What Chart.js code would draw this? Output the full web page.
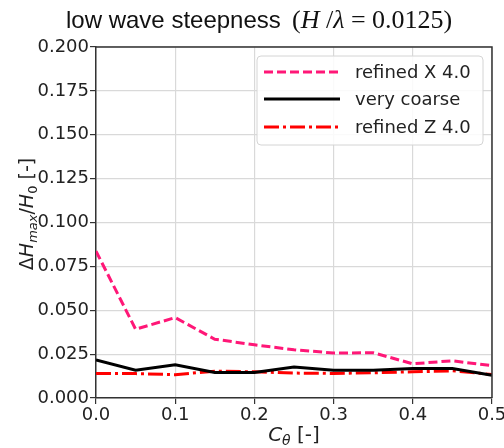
<!DOCTYPE html>
<html>
<head>
<meta charset="utf-8">
<script src="https://cdn.jsdelivr.net/npm/chart.js@4.4.1/dist/chart.umd.min.js"></script>
<style>
  html, body { margin: 0; padding: 0; background: #ffffff; }
  #wrap { width: 504px; height: 448px; }
</style>
</head>
<body>
<div id="wrap"><canvas id="c" width="504" height="448"></canvas></div>
<script>
// ---- data ----
const cTheta = [0.0, 0.05, 0.1, 0.15, 0.2, 0.25, 0.3, 0.35, 0.4, 0.45, 0.5];
const refinedX4 = [0.0837, 0.0392, 0.0458, 0.0335, 0.0303, 0.0275, 0.0256, 0.0258, 0.0195, 0.0212, 0.0184];
const veryCoarse = [0.0217, 0.0158, 0.0190, 0.0145, 0.0146, 0.0176, 0.0158, 0.0158, 0.0168, 0.0168, 0.0129];
const refinedZ4 = [0.0139, 0.0139, 0.0133, 0.0153, 0.0149, 0.0142, 0.0140, 0.0144, 0.0149, 0.0155, 0.0134];
const seriesNames = ['refined X 4.0', 'very coarse', 'refined Z 4.0'];
const xTickValues = [0.0, 0.1, 0.2, 0.3, 0.4, 0.5];
const yTickValues = [0.000, 0.025, 0.050, 0.075, 0.100, 0.125, 0.150, 0.175, 0.200];

const toPts = (ys) => ys.map((y, i) => ({ x: cTheta[i], y: y }));

const SANS = '"DejaVu Sans", sans-serif';

// Title, axis titles, top/right spines and legend
const decor = {
  id: 'decor',
  afterDraw(chart) {
    const ctx = chart.ctx;
    const a = chart.chartArea;
    ctx.save();
    // top & right spines
    ctx.strokeStyle = '#333333';
    ctx.lineWidth = 1.5;
    ctx.beginPath();
    ctx.moveTo(a.left, a.top);
    ctx.lineTo(a.right, a.top);
    ctx.lineTo(a.right, a.bottom);
    ctx.stroke();

    // ---- title ----
    ctx.fillStyle = '#111111';
    ctx.textBaseline = 'alphabetic';
    ctx.textAlign = 'left';
    let tx = 66, ty = 28;
    ctx.font = '24px "Liberation Sans", Arial, sans-serif';
    ctx.fillText('low wave steepness', tx, ty);
    tx = 292;
    const serif = '"Liberation Serif", "Times New Roman", serif';
    const parts = [
      ['(', 'normal'], ['H', 'italic'], [' /', 'normal'], ['λ', 'italic'],
      [' = ', 'normal'], ['0.0125', 'normal'], [')', 'normal']
    ];
    for (const [t, st] of parts) {
      ctx.font = st + ' 26px ' + serif;
      ctx.fillText(t, tx, ty);
      tx += ctx.measureText(t).width;
    }

    // ---- x axis title: C_θ [-] ----
    const drawRich = (segs, cx, cy) => {
      let w = 0;
      for (const s of segs) { ctx.font = s.f; w += ctx.measureText(s.t).width; }
      let x = cx - w / 2;
      for (const s of segs) {
        ctx.font = s.f;
        ctx.fillText(s.t, x, cy + (s.dy || 0));
        x += ctx.measureText(s.t).width;
      }
    };
    ctx.fillStyle = '#222222';
    drawRich([
      { t: 'C', f: 'italic 20px ' + SANS },
      { t: 'θ', f: 'italic 14px ' + SANS, dy: 4 },
      { t: ' [-]', f: '20px ' + SANS }
    ], (a.left + a.right) / 2, 441);

    // ---- y axis title: ΔH_max/H_0 [-] ----
    ctx.save();
    ctx.translate(33, 214);
    ctx.rotate(-Math.PI / 2);
    drawRich([
      { t: 'Δ', f: '19px ' + SANS },
      { t: 'H', f: 'italic 19px ' + SANS },
      { t: 'max', f: 'italic 13px ' + SANS, dy: 4 },
      { t: '/', f: '19px ' + SANS },
      { t: 'H', f: 'italic 19px ' + SANS },
      { t: '0', f: '13px ' + SANS, dy: 4 },
      { t: ' [-]', f: '19px ' + SANS }
    ], 0, 0);
    ctx.restore();

    // ---- legend ----
    const bx = 257, by = 56, bw = 226, bh = 89, r = 4;
    ctx.beginPath();
    ctx.moveTo(bx + r, by);
    ctx.arcTo(bx + bw, by, bx + bw, by + bh, r);
    ctx.arcTo(bx + bw, by + bh, bx, by + bh, r);
    ctx.arcTo(bx, by + bh, bx, by, r);
    ctx.arcTo(bx, by, bx + bw, by, r);
    ctx.closePath();
    ctx.fillStyle = 'rgba(255,255,255,0.85)';
    ctx.fill();
    ctx.strokeStyle = '#d4d4d4';
    ctx.lineWidth = 1;
    ctx.stroke();

    const rows = [72, 99, 127];
    chart.data.datasets.forEach((ds, i) => {
      const y = rows[i];
      ctx.save();
      ctx.strokeStyle = ds.borderColor;
      ctx.lineWidth = ds.borderWidth;
      ctx.setLineDash(ds.borderDash || []);
      ctx.lineCap = 'butt';
      ctx.beginPath();
      ctx.moveTo(264, y);
      ctx.lineTo(340, y);
      ctx.stroke();
      ctx.restore();
      ctx.fillStyle = '#222222';
      ctx.font = '18px ' + SANS;
      ctx.textBaseline = 'middle';
      ctx.fillText(ds.label, 355, y + 1);
    });
    ctx.restore();
  }
};

new Chart(document.getElementById('c'), {
  type: 'line',
  data: {
    datasets: [
      {
        label: seriesNames[0],
        data: toPts(refinedX4),
        borderColor: '#ff1777',
        borderWidth: 3,
        borderDash: [9, 4],
        pointRadius: 0,
        fill: false,
        tension: 0
      },
      {
        label: seriesNames[1],
        data: toPts(veryCoarse),
        borderColor: '#000000',
        borderWidth: 3,
        pointRadius: 0,
        fill: false,
        tension: 0
      },
      {
        label: seriesNames[2],
        data: toPts(refinedZ4),
        borderColor: '#ff0000',
        borderWidth: 3,
        borderDash: [15, 4, 3, 4],
        pointRadius: 0,
        fill: false,
        tension: 0
      }
    ]
  },
  options: {
    responsive: false,
    animation: false,
    devicePixelRatio: 1,
    layout: { padding: { top: 47, right: 12, left: 0, bottom: 0 } },
    plugins: {
      legend: { display: false },
      title: { display: false },
      tooltip: { enabled: false }
    },
    scales: {
      x: {
        type: 'linear',
        min: 0, max: 0.5,
        afterBuildTicks(scale) { scale.ticks = xTickValues.map(v => ({ value: v })); },
        afterFit(scale) { scale.height = 50; scale.paddingLeft = 0; scale.paddingRight = 0; },
        grid: { color: '#d9d9d9', lineWidth: 1.2, tickColor: '#333333', tickLength: 6, tickWidth: 1.2 },
        border: { display: true, color: '#333333', width: 1.5 },
        ticks: {
          font: { family: 'DejaVu Sans', size: 18 },
          color: '#222222',
          padding: 1,
          maxRotation: 0,
          autoSkip: false,
          callback: (v) => Number(v).toFixed(1)
        }
      },
      y: {
        type: 'linear',
        min: 0, max: 0.2,
        afterBuildTicks(scale) { scale.ticks = yTickValues.map(v => ({ value: v })); },
        afterFit(scale) { scale.width = 96; scale.paddingTop = 0; scale.paddingBottom = 0; },
        grid: { color: '#d9d9d9', lineWidth: 1.2, tickColor: '#333333', tickLength: 6, tickWidth: 1.2 },
        border: { display: true, color: '#333333', width: 1.5 },
        ticks: {
          font: { family: 'DejaVu Sans', size: 18 },
          color: '#222222',
          padding: 1,
          autoSkip: false,
          callback: (v) => Number(v).toFixed(3)
        }
      }
    }
  },
  plugins: [decor]
});
</script>
</body>
</html>
